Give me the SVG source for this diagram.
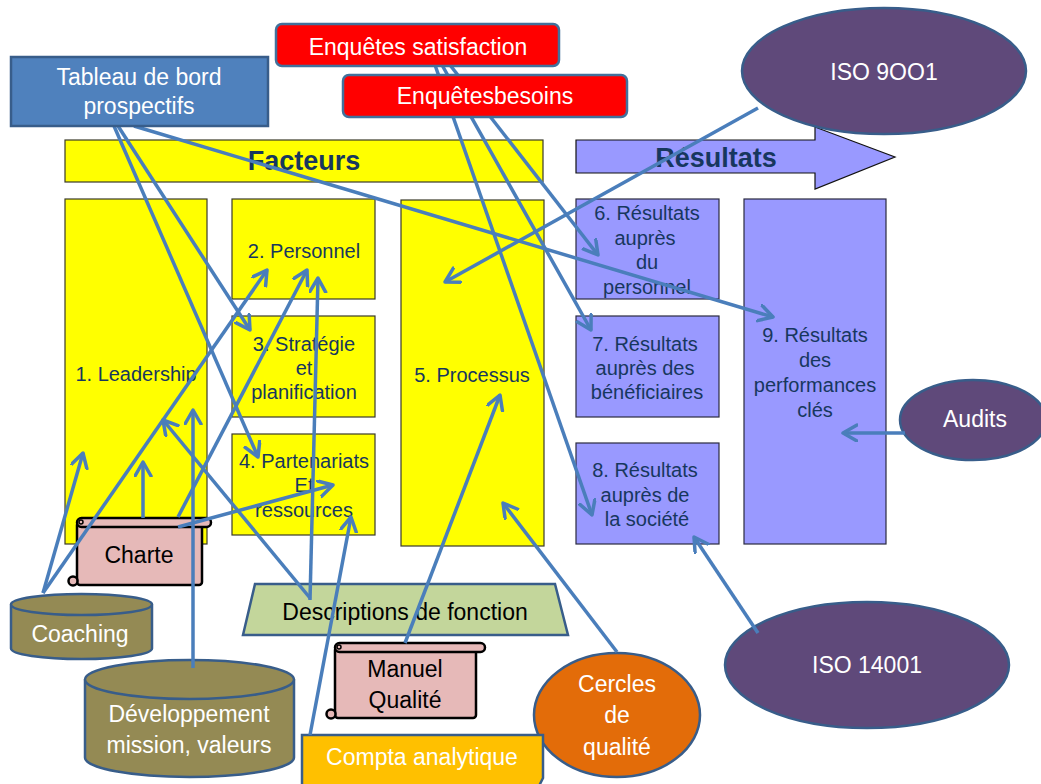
<svg xmlns="http://www.w3.org/2000/svg" width="1041" height="784" viewBox="0 0 1041 784">
<defs>
<marker id="arr" markerUnits="userSpaceOnUse" markerWidth="20" markerHeight="20" refX="15" refY="9" orient="auto">
<path d="M1,1 L15,9 L1,17" fill="none" stroke="#4A7EBB" stroke-width="3.5" stroke-linecap="round" stroke-linejoin="round"/>
</marker>
</defs>
<style>
.yb{fill:#FFFF00;stroke:#3a3a2a;stroke-width:1.2}
.pb{fill:#9999FF;stroke:#2a2a40;stroke-width:1.2}
.bt{font-family:"Liberation Sans",Arial,sans-serif;font-size:20px;fill:#17375E;text-anchor:middle}
.hd{font-family:"Liberation Sans",Arial,sans-serif;font-size:27px;font-weight:bold;fill:#17375E;text-anchor:middle}
.wt{font-family:"Liberation Sans",Arial,sans-serif;font-size:23px;fill:#FFFFFF;text-anchor:middle}
.kt{font-family:"Liberation Sans",Arial,sans-serif;font-size:23px;fill:#000000;text-anchor:middle}
.ov{fill:#5F497A;stroke:#385D8A;stroke-width:2.5}
.cy{fill:#948A54;stroke:#385D8A;stroke-width:2.5}
.sc{fill:#E6B9B8;stroke:#000;stroke-width:2.5}
.rd{fill:#FF0000;stroke:#41719C;stroke-width:2.5}
.cn line{stroke:#4A7EBB;stroke-width:3.5;marker-end:url(#arr)}
</style>
<rect width="1041" height="784" fill="#fff"/>

<g id="facteurs"><rect class="yb" x="65" y="140" width="478" height="42"/><text class="hd" x="304" y="170">Facteurs</text></g>
<g id="resultats"><path d="M576,140 H815 V127 L895,157 L815,189 V173 H576 Z" fill="#9999FF" stroke="#111" stroke-width="1.2"/><text class="hd" x="716" y="167">Résultats</text></g>

<g id="n1"><rect class="yb" x="65" y="199" width="142" height="345"/><text class="bt" x="136" y="381">1. Leadership</text></g>
<g id="n2"><rect class="yb" x="232" y="199" width="143" height="100"/><text class="bt" x="304" y="258">2. Personnel</text></g>
<g id="n3"><rect class="yb" x="232" y="316" width="143" height="101"/><text class="bt" x="304" y="351">3. Stratégie</text><text class="bt" x="304" y="375">et</text><text class="bt" x="304" y="399">planification</text></g>
<g id="n4"><rect class="yb" x="232" y="434" width="143" height="101"/><text class="bt" x="304" y="468">4. Partenariats</text><text class="bt" x="304" y="492">Et</text><text class="bt" x="304" y="517">ressources</text></g>
<g id="n5"><rect class="yb" x="401" y="200" width="143" height="346"/><text class="bt" x="472" y="382">5. Processus</text></g>
<g id="n6"><rect class="pb" x="576" y="199" width="143" height="100"/><text class="bt" x="647" y="220">6. Résultats</text><text class="bt" x="645" y="245">auprès</text><text class="bt" x="647" y="269">du</text><text class="bt" x="647" y="294">personnel</text></g>
<g id="n7"><rect class="pb" x="576" y="316" width="143" height="101"/><text class="bt" x="645" y="351">7. Résultats</text><text class="bt" x="645" y="375">auprès des</text><text class="bt" x="647" y="399">bénéficiaires</text></g>
<g id="n8"><rect class="pb" x="576" y="443" width="143" height="101"/><text class="bt" x="645" y="477">8. Résultats</text><text class="bt" x="645" y="502">auprès de</text><text class="bt" x="647" y="526">la société</text></g>
<g id="n9"><rect class="pb" x="744" y="199" width="142" height="345"/><text class="bt" x="815" y="342">9. Résultats</text><text class="bt" x="815" y="367">des</text><text class="bt" x="815" y="392">performances</text><text class="bt" x="815" y="417">clés</text></g>

<g id="iso9001"><ellipse class="ov" cx="884" cy="71" rx="142" ry="63"/><text class="wt" x="884" y="80">ISO 9OO1</text></g>
<g id="audits"><ellipse class="ov" cx="973" cy="420" rx="73" ry="40"/><text class="wt" x="975" y="427">Audits</text></g>
<g id="iso14001"><ellipse class="ov" cx="867" cy="665" rx="142" ry="63"/><text class="wt" x="867" y="673">ISO 14001</text></g>
<g id="cercles"><ellipse cx="617" cy="715" rx="83" ry="62" fill="#E36C09" stroke="#385D8A" stroke-width="2.5"/><text class="wt" x="617" y="692">Cercles</text><text class="wt" x="617" y="723">de</text><text class="wt" x="617" y="755">qualité</text></g>

<g id="charte">
<rect class="sc" x="77" y="522" width="125" height="63" rx="3"/>
<rect class="sc" x="77" y="518" width="134" height="9" rx="4.5"/>
<circle class="sc" cx="73" cy="581" r="4.5" style="stroke-width:2.5"/>
<circle cx="81" cy="522" r="2" fill="none" stroke="#000" stroke-width="1.5"/>
<text class="kt" x="139" y="563">Charte</text></g>

<g id="manuel">
<rect class="sc" x="335" y="647" width="141" height="71" rx="3"/>
<rect class="sc" x="335" y="643" width="150" height="9" rx="4.5"/>
<circle class="sc" cx="331" cy="714" r="4.5"/>
<circle cx="339" cy="647" r="2" fill="none" stroke="#000" stroke-width="1.5"/>
<text class="kt" x="405" y="677">Manuel</text><text class="kt" x="405" y="708">Qualité</text></g>

<g id="coaching"><path class="cy" d="M11,604.5 V648.5 A70.5,10.5 0 0,0 152,648.5 V604.5"/><ellipse class="cy" cx="81.5" cy="604.5" rx="70.5" ry="10.5"/><text class="wt" x="80" y="642">Coaching</text></g>
<g id="developpement"><path class="cy" d="M85,679.5 V757.5 A104.5,19.5 0 0,0 294,757.5 V679.5"/><ellipse class="cy" cx="189.5" cy="679.5" rx="104.5" ry="19.5"/><text class="wt" x="189" y="722">Développement</text><text class="wt" x="189" y="753">mission, valeurs</text></g>

<g id="descriptions"><path d="M255,584 H555 L568,635 H243 Z" fill="#C3D69B" stroke="#385D8A" stroke-width="2.5"/><text class="kt" x="405" y="620">Descriptions de fonction</text></g>
<g id="compta"><path d="M302,735 H543 V778 L537,790 H302 Z" fill="#FFC000" stroke="#385D8A" stroke-width="2.5"/><text class="wt" x="422" y="765">Compta analytique</text></g>

<g id="connectors" class="cn">
<line x1="118" y1="126" x2="250" y2="330"/>
<line x1="114" y1="126" x2="258" y2="457"/>
<line x1="134" y1="126" x2="773" y2="317"/>
<line x1="450" y1="65" x2="598" y2="255"/>
<line x1="442" y1="65" x2="591" y2="330"/>
<line x1="435" y1="65" x2="592" y2="515"/>
<line x1="758" y1="108" x2="445" y2="282"/>
<line x1="905" y1="433" x2="843" y2="433"/>
<line x1="758" y1="633" x2="694" y2="537"/>
<line x1="617" y1="652" x2="503" y2="503"/>
<line x1="405" y1="643" x2="500" y2="395"/>
<line x1="310" y1="735" x2="351" y2="517"/>
<line x1="193" y1="668" x2="193" y2="410"/>
<line x1="143" y1="518" x2="143" y2="462"/>
<line x1="178" y1="517" x2="307" y2="270"/>
<line x1="178" y1="527" x2="333" y2="485"/>
<line x1="43" y1="593" x2="83" y2="453"/>
<line x1="43" y1="593" x2="267" y2="270"/>
<line x1="310" y1="598" x2="163" y2="420"/>
<line x1="310" y1="600" x2="318" y2="278"/>
</g>

<g id="tableau"><rect x="11" y="57" width="257" height="69" fill="#4F81BD" stroke="#385D8A" stroke-width="2.5"/><text class="wt" x="139" y="85">Tableau de bord</text><text class="wt" x="139" y="114">prospectifs</text></g>
<g id="enq_sat"><rect class="rd" x="276" y="24" width="283" height="42" rx="6"/><text class="wt" x="418" y="55">Enquêtes satisfaction</text></g>
<g id="enq_bes"><rect class="rd" x="343" y="75" width="284" height="42" rx="6"/><text class="wt" x="485" y="104">Enquêtesbesoins</text></g>
</svg>
